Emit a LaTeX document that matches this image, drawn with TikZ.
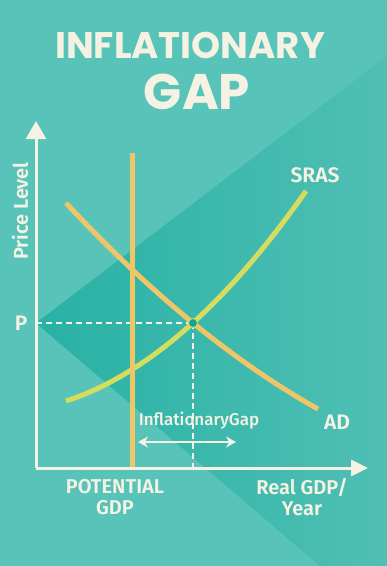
\documentclass[tikz,border=0pt]{standalone}
\usepackage{fontspec}
\setmainfont{Fira Sans}[BoldFont={Fira Sans SemiBold}]
\newfontfamily\medfont{Fira Sans Medium}
\newfontfamily\titlefont{Poppins}
\usetikzlibrary{arrows.meta}
\definecolor{cream}{HTML}{F5F2E3}
\definecolor{bgteal}{HTML}{58C3B8}
\definecolor{wedgedark}{HTML}{28B1A5}
\definecolor{wedgelight}{HTML}{50BFB4}
\definecolor{goldline}{HTML}{EEC667}
\definecolor{srasgreen}{HTML}{D5DD5F}
\definecolor{eqteal}{HTML}{13A497}
\tikzset{
	lbl/.style={text=cream,font=\bfseries\fontsize{#1}{21}\selectfont},
	lbl/.default=20,
	ttl/.style={text=cream,font=\titlefont\bfseries\fontsize{#1}{#1}\selectfont},
	curve/.style={line width=5pt,draw=#1},
	guide/.style={draw=cream,line width=1.2pt,dash pattern=on 6pt off 4pt},
	axis/.style={draw=cream,line width=3pt},
	eq/.style={circle,inner sep=0pt,minimum size=9pt,fill=eqteal,draw=srasgreen,line width=0.8pt}
}
\begin{document}
\begin{tikzpicture}[x=1pt,y=-1pt]
	\fill[bgteal] (0,0) rectangle (387,566);
	\useasboundingbox (0,0) rectangle (387,566);
	\shade[left color=wedgedark,right color=wedgelight] (36,323) -- (387,56) -- (387,566) -- (320,566) -- cycle;

	\coordinate (O) at (36,468);
	\coordinate (ytop) at (36,121);
	\coordinate (xend) at (368,468);
	\coordinate (Pax) at (36,323);
	\coordinate (e) at (193,323);
	\coordinate (ebase) at (193,468);
	\coordinate (pgtop) at (132,153);
	\coordinate (pgbot) at (132,468);
	\coordinate (gapl) at (138,442);
	\coordinate (gapr) at (236,442);
	\coordinate (ad1) at (66,203);
	\coordinate (ad2) at (318,409);
	\coordinate (sr1) at (66,401);
	\coordinate (sr2) at (306,191);

	% title
	\node[ttl=37] (t1) at (190,45) {INFLATIONARY};
	\node[ttl=50] (t2) at (197,92) {GAP};

	% guides to the equilibrium
	\draw[guide] (Pax) -- (e);
	\draw[guide] (e) -- (ebase);
	\node[text=cream,font=\medfont\fontsize{17}{19}\selectfont] (gap) at (199,421) {InflationaryGap};
	\draw[draw=cream,line width=1.5pt,{Stealth[width=11pt,length=10pt]}-{Stealth[width=11pt,length=10pt]}] (gapl) -- (gapr);

	% curves
	\draw[curve=goldline] (ad1) .. controls (150,293) and (234,362) .. (ad2);
	\draw[curve=srasgreen] (sr1) .. controls (146,375) and (226,305) .. (sr2);
	\draw[curve=goldline] (pgtop) -- (pgbot);
	\node[eq] (E) at (e) {};

	% axes
	\draw[axis,-{Triangle[width=20pt,length=18pt]}] (O) -- (ytop);
	\draw[axis,-{Triangle[width=16pt,length=17pt]}] (O) -- (xend);

	% labels
	\node[lbl=21] (plab) at (21,323) {P};
	\node[lbl,rotate=90] (ylab) at (20,211) {Price Level};
	\node[lbl=21] (srlab) at (315,175) {SRAS};
	\node[lbl=21] (adlab) at (337,422) {AD};
	\node[lbl,align=center] (potlab) at (115,497) {POTENTIAL\\GDP};
	\node[lbl,align=center] (xlab) at (302,497) {Real GDP/\\Year};
\end{tikzpicture}
\end{document}
